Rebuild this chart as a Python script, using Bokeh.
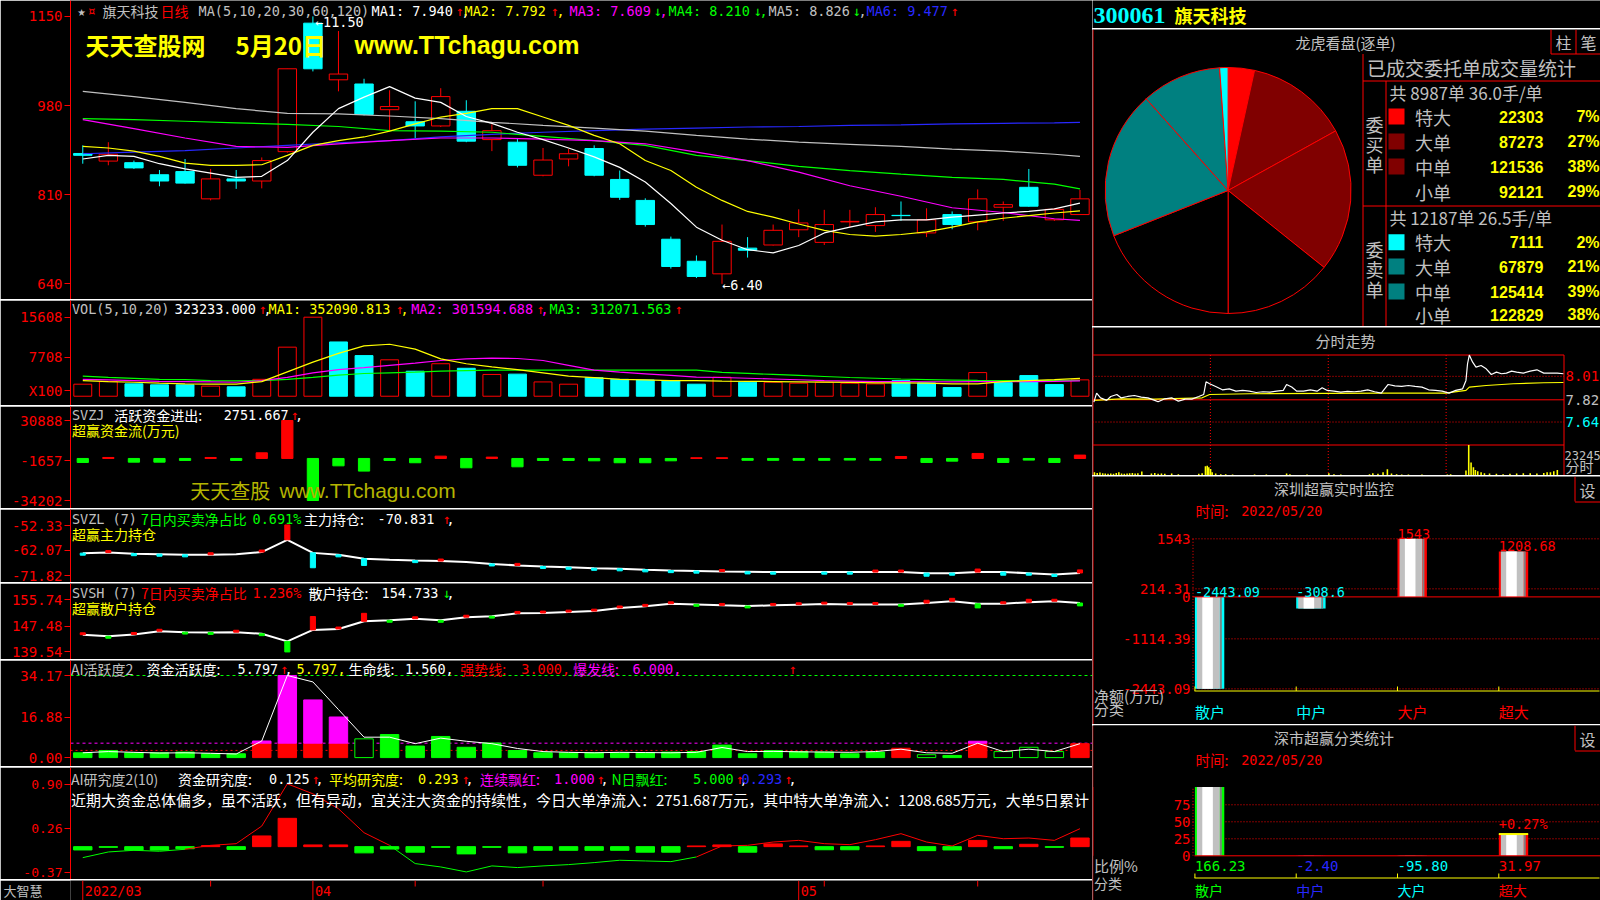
import math
from bokeh.plotting import figure
from bokeh.layouts import column, row
from bokeh.models import Range1d, FixedTicker
from bokeh.core.properties import value
from bokeh.embed import file_html
from bokeh.resources import INLINE

# ---------------------------------------------------------------- palette
BG = "#000000"; RED = "#ff0000"; CYAN = "#00ffff"; GREEN = "#00ff00"; YELLOW = "#ffff00"
MAGENTA = "#ff00ff"; WHITE = "#ffffff"; GRAY = "#c0c0c0"; BLUE = "#2828ff"
DARKRED = "#800000"; TEAL = "#008080"; OLIVE = "#b4b400"; DGRAY = "#808080"
MONO = "DejaVu Sans Mono, Noto Sans CJK SC"
CJK = "Noto Sans CJK SC, DejaVu Sans"
SANS = "Liberation Sans"
SERIF = "Liberation Serif"

# ---------------------------------------------------------------- daily bars 2022-03-21 .. 2022-05-20
opens = [8.885, 8.74, 8.71, 8.48, 8.54, 8.02, 8.40, 8.36, 8.92, 11.37,
         10.29, 10.21, 9.72, 9.49, 9.41, 9.69, 9.15, 9.10, 8.47, 8.78,
         8.98, 8.39, 7.99, 7.25, 6.83, 6.59, 7.08, 7.14, 7.43, 7.19,
         7.58, 7.51, 7.705, 7.37, 7.72, 7.58, 7.86, 8.24, 7.62, 7.72]
highs = [9.04, 9.10, 8.75, 8.57, 8.78, 8.59, 8.57, 8.81, 10.50, 11.50,
         11.22, 10.31, 10.09, 9.88, 10.13, 9.90, 9.44, 9.16, 8.99, 8.97,
         9.04, 8.56, 8.03, 7.30, 6.94, 7.53, 7.29, 7.53, 7.82, 7.81,
         7.81, 7.86, 7.97, 7.84, 7.78, 8.20, 7.97, 8.59, 7.84, 8.19]
lows = [8.69, 8.66, 8.59, 8.26, 8.31, 7.99, 8.21, 8.22, 8.90, 10.45,
        10.07, 9.61, 9.31, 9.18, 9.39, 9.10, 8.93, 8.62, 8.45, 8.64,
        8.45, 8.00, 7.49, 6.69, 6.51, 6.40, 6.90, 7.13, 7.29, 7.14,
        7.48, 7.39, 7.60, 7.29, 7.44, 7.42, 7.60, 7.87, 7.60, 7.72]
closes = [8.85, 8.87, 8.61, 8.36, 8.32, 8.40, 8.36, 8.75, 10.50, 10.50,
          10.40, 9.63, 9.78, 9.41, 9.97, 9.12, 9.32, 8.66, 8.76, 8.88,
          8.47, 8.05, 7.53, 6.73, 6.54, 7.21, 7.04, 7.42, 7.56, 7.53,
          7.59, 7.72, 7.70, 7.62, 7.53, 8.02, 7.91, 7.88, 7.82, 8.02]
ma5 = [8.78, 8.85, 8.83, 8.69, 8.59, 8.51, 8.43, 8.45, 8.75, 9.29,
       9.74, 9.96, 10.16, 9.94, 9.86, 9.59, 9.46, 9.29, 9.15, 8.99,
       8.82, 8.62, 8.34, 7.93, 7.48, 7.23, 7.05, 6.99, 7.13, 7.37,
       7.48, 7.58, 7.62, 7.62, 7.67, 7.71, 7.75, 7.78, 7.83, 7.94]
ma10 = [9.02, 8.99, 8.93, 8.83, 8.70, 8.66, 8.66, 8.67, 8.85, 9.04,
        9.13, 9.20, 9.31, 9.45, 9.58, 9.65, 9.74, 9.74, 9.58, 9.42,
        9.23, 9.07, 8.75, 8.56, 8.24, 7.99, 7.78, 7.67, 7.54, 7.42,
        7.34, 7.31, 7.34, 7.39, 7.48, 7.58, 7.65, 7.70, 7.75, 7.79]
ma_idx = [0, 2, 4, 6, 8, 10, 12, 14, 16, 18, 20, 22, 24, 26, 28, 30, 32, 34, 36, 38, 39]
ma20 = [9.53, 9.36, 9.18, 9.02, 9.00, 9.07, 9.13, 9.18, 9.18, 9.16, 9.13,
        9.07, 8.91, 8.75, 8.53, 8.27, 8.07, 7.85, 7.76, 7.64, 7.61]
ma30 = [9.55, 9.53, 9.50, 9.47, 9.44, 9.40, 9.32, 9.31, 9.29, 9.21, 9.13,
        9.04, 8.85, 8.75, 8.64, 8.56, 8.49, 8.43, 8.39, 8.30, 8.21]
ma60 = [10.07, 9.97, 9.86, 9.74, 9.65, 9.64, 9.60, 9.55, 9.48, 9.42, 9.37,
        9.31, 9.23, 9.16, 9.10, 9.06, 9.02, 8.97, 8.93, 8.87, 8.83]
ma120 = [8.88, 8.91, 8.94, 8.99, 9.04, 9.09, 9.13, 9.20, 9.25, 9.29, 9.32,
         9.35, 9.37, 9.39, 9.40, 9.42, 9.43, 9.45, 9.46, 9.47, 9.48]

# volume (x100 shares)
vol = [2375, 2890, 2440, 2250, 2250, 1990, 1860, 3340, 9690, 15608,
       10720, 8025, 7190, 4940, 6420, 5520, 4300, 4365, 2825, 2375,
       3660, 3340, 3210, 3080, 2375, 3750, 2770, 2770, 2570, 2770,
       2570, 2435, 3090, 2630, 1710, 4670, 2700, 4080, 2300, 3232]
vol_up = [1, 1, 0, 0, 0, 1, 0, 1, 1, 1, 0, 0, 1, 0, 1, 0, 1, 0, 1, 1,
          0, 0, 0, 0, 0, 1, 0, 1, 1, 1, 1, 1, 0, 0, 0, 1, 0, 0, 0, 1]
vol_ma5 = [3080, 2890, 2760, 2570, 2440, 2375, 2375, 2890, 4815, 6740,
           8470, 9950, 10270, 9310, 7380, 6420, 5780, 5260, 4620, 3980,
           3660, 3340, 3210, 3080, 3080, 3000, 2950, 2900, 2850, 2800,
           2750, 2630, 2630, 2600, 2450, 2450, 2900, 3090, 3290, 3521]
vol_ma10 = [3340, 3210, 3080, 2950, 2890, 2825, 2760, 3080, 3720, 4620,
            5260, 5650, 6100, 6550, 7060, 7380, 7510, 7450, 7060, 6100,
            5140, 4750, 4430, 4110, 3790, 3700, 3550, 3400, 3250, 3100,
            3000, 2900, 2880, 2860, 2850, 2870, 2880, 2900, 2950, 3016]
vol_ma20 = [3980, 3720, 3530, 3340, 3270, 3080, 3020, 3080, 3340, 3720,
            4170, 4490, 4620, 4750, 4940, 5070, 5140, 5140, 5140, 5140,
            5140, 5140, 5140, 5140, 5140, 4700, 4500, 4300, 4100, 3900,
            3700, 3550, 3400, 3290, 3200, 3120, 3100, 3100, 3110, 3121]

# SVZJ active money flow (10k yuan)
svzj = [-3250, 800, -3000, -3000, -1600, 800, -1600, 4600, 30888, -34202,
        -6000, -10300, -1600, -3500, 1900, -7600, 1100, -6800, -1600, -1600,
        -1900, -3500, -3500, -1900, 600, 600, -1500, -1500, -1500, -1500,
        -1300, -1500, 1600, -3250, -2170, 4070, -3250, -1350, -3250, 2752]
# SVZL main-force holding and daily change marks
svzl = [-63.1, -62.9, -63.3, -63.5, -63.75, -63.75, -63.5, -62.7, -57.9, -63.0,
        -63.75, -65.3, -65.7, -66.0, -66.2, -66.6, -67.3, -67.9, -68.3, -68.6,
        -69.0, -69.2, -69.6, -69.9, -70.1, -70.3, -70.4, -70.5, -70.5, -70.5,
        -70.5, -70.5, -70.5, -70.9, -70.9, -70.5, -70.5, -70.9, -71.4, -70.831]
svzl_mark = [-0.8, 0.8, -0.8, -0.8, -0.8, 0.8, 0, 0.8, 5.8, -5.8,
             -0.8, -2.6, 0, -0.8, 0.8, 0, -0.8, 0.8, -0.8, -0.8,
             -0.8, -0.8, -0.8, -0.8, -0.8, 0.8, -0.8, -0.8, 0, -0.8,
             -0.8, 0.8, 0.8, -1.2, -0.8, 1.2, -1.2, -0.8, -0.8, 1.2]
# SVSH retail holding and daily change marks
svsh = [144.8, 144.3, 144.9, 145.9, 145.6, 145.5, 145.6, 145.1, 142.7, 146.3,
        146.6, 149.0, 149.3, 149.8, 149.3, 150.3, 150.6, 151.5, 151.6, 151.9,
        152.2, 153.2, 153.7, 154.5, 154.3, 154.0, 153.8, 154.0, 154.2, 154.4,
        154.3, 154.3, 154.3, 154.7, 155.3, 154.5, 154.5, 155.0, 155.3, 154.733]
svsh_mark = [0.6, -0.6, 0.6, 0.6, -0.6, -0.6, 0.6, -0.6, -3.3, 4.2,
             0.6, 2.5, -0.6, 0.6, -0.6, 0.6, -0.6, 0.6, 0.6, 0.6,
             0.6, 0.6, 0.6, 0.6, -0.6, 0.6, -0.6, 0.6, 0.6, 0.6,
             0.6, 0.6, -0.6, 0.9, 0.9, -1.3, 0.6, 0.9, 0.6, -0.9]
# AI activity
ai_act = [2.0, 2.95, 2.0, 2.0, 2.3, 1.6, 1.6, 6.9, 34.17, 24.0,
          16.9, 7.8, 9.6, 4.8, 8.8, 4.3, 6.1, 2.95, 2.0, 2.0,
          2.0, 2.0, 2.0, 2.3, 2.5, 5.2, 1.6, 2.95, 2.5, 2.3,
          1.6, 2.3, 3.9, 1.2, 0.9, 6.8, 2.5, 4.3, 2.5, 5.797]
ai_kind = ["dn"] * 7 + ["up"] * 4 + ["ho"] + ["dn"] * 20 + ["up", "ho", "dn", "up", "ho", "ho", "ho", "up"]
ai_line = [2.0, 2.5, 2.2, 1.9, 2.0, 1.8, 1.5, 6.9, 34.17, 31.5,
           20.0, 8.5, 8.5, 5.8, 8.1, 6.8, 5.8, 3.8, 2.5, 2.2,
           2.0, 2.2, 2.1, 2.0, 2.2, 4.2, 2.5, 2.6, 2.4, 2.3,
           2.2, 2.5, 3.5, 2.0, 1.8, 6.0, 2.5, 3.5, 2.5, 5.797]
AI_TOP, AI_BURST, AI_STRONG = 34.17, 6.0, 3.0
# AI research
ai_res = [-0.048, -0.01, -0.05, -0.05, -0.03, 0.015, -0.04, 0.155, 0.41, 0.025,
          0.025, -0.09, -0.035, -0.08, -0.01, -0.105, -0.01, -0.09, -0.053, -0.053,
          -0.053, -0.053, -0.08, -0.08, 0.01, 0.025, -0.08, 0.04, 0.01, -0.045,
          -0.045, 0.01, 0.077, -0.058, -0.048, 0.09, -0.03, 0.034, -0.01, 0.125]
ai_res_line = [-0.159, -0.077, -0.053, -0.067, -0.038, 0.019, 0.043, 0.298, 0.91, 0.765,
               0.549, 0.202, 0.019, -0.245, -0.294, -0.366, -0.279, -0.303, -0.279, -0.26,
               -0.231, -0.197, -0.207, -0.217, -0.149, 0.01, 0.019, 0.067, 0.091, 0.043,
               0.029, 0.101, 0.188, 0.067, 0.01, 0.164, 0.115, 0.125, 0.091, 0.26]
ai_res_seg_up = [0] * 4 + [1] * 8 + [0] * 12 + [1] * 15

month_idx = [0, 9, 28]
month_lbl = ["2022/03", "04", "05"]
week_idx = [5, 13, 18, 29, 35]

# ---------------------------------------------------------------- order book statistics
size_names = ["特大", "大单", "中单", "小单"]
buy_vals = [22303, 87273, 121536, 92121]
sell_vals = [7111, 67879, 125414, 122829]
buy_pct = ["7%", "27%", "38%", "29%"]
sell_pct = ["2%", "21%", "39%", "38%"]
buy_cols = [RED, DARKRED, DARKRED, BG]
sell_cols = [CYAN, TEAL, TEAL, BG]
buy_sum = "共 8987单 36.0手/单"
sell_sum = "共 12187单 26.5手/单"

# ---------------------------------------------------------------- intraday (minutes from open)
tick_t = [0.7, 2.1, 4.1, 7.2, 9.3, 12.4, 14.5, 17.9, 21.3, 24.8, 28.2, 31.7, 33.4, 36.8, 40.3,
          43.7, 47.2, 50.6, 54.1, 56.6, 57.8, 59.6, 62.7, 66.1, 69.6, 73.0, 76.4, 79.9, 83.3,
          86.8, 90.2, 93.7, 97.1, 98.8, 101.4, 104.0, 107.4, 110.9, 114.3, 116.9, 119.5, 122.9,
          126.4, 129.8, 133.3, 136.7, 140.1, 143.6, 147.0, 150.5, 153.9, 157.4, 160.8, 164.2,
          167.7, 171.1, 174.6, 178.0, 181.5, 184.9, 188.4, 190.1, 190.9, 191.8, 193.5, 195.2,
          197.8, 200.4, 203.0, 205.6, 208.2, 210.7, 213.3, 215.9, 219.3, 222.8, 226.2, 229.7,
          233.1, 236.6, 239.7]
tick_p = [7.801, 7.874, 7.836, 7.815, 7.847, 7.863, 7.836, 7.847, 7.855, 7.842, 7.836, 7.815,
          7.804, 7.828, 7.836, 7.809, 7.825, 7.825, 7.847, 7.863, 7.966, 7.950, 7.928, 7.901,
          7.909, 7.890, 7.896, 7.890, 7.879, 7.885, 7.882, 7.890, 7.896, 7.944, 7.923, 7.890,
          7.890, 7.901, 7.890, 7.917, 7.896, 7.890, 7.882, 7.888, 7.885, 7.890, 7.901, 7.885,
          7.874, 7.944, 7.933, 7.928, 7.936, 7.928, 7.923, 7.901, 7.896, 7.890, 7.874, 7.896,
          7.909, 7.977, 8.112, 8.182, 8.125, 8.085, 8.098, 8.071, 8.025, 8.044, 8.031, 8.036,
          8.052, 8.044, 8.036, 8.052, 8.063, 8.036, 8.036, 8.036, 8.031]
avg_t = [0.7, 14.5, 31.7, 55.8, 59.6, 79.9, 148.8, 179.7, 190.1, 191.8, 200.4, 214.2, 229.7, 239.7]
avg_p = [7.815, 7.828, 7.825, 7.836, 7.863, 7.869, 7.874, 7.874, 7.896, 7.923, 7.936, 7.950, 7.958, 7.960]
min_t = [1.0, 2.4, 3.8, 5.2, 6.5, 7.9, 9.3, 10.7, 12.1, 13.4, 14.8, 16.2, 17.6, 18.9, 20.3, 21.7,
         23.1, 25.1, 30.0, 31.7, 33.4, 35.1, 36.8, 40.3, 43.7, 54.1, 55.8, 57.5, 58.4, 59.2, 60.1,
         60.9, 62.7, 65.3, 67.8, 71.3, 82.5, 88.5, 98.8, 100.5, 109.2, 120.3, 122.9, 126.4, 141.0,
         142.7, 145.3, 147.9, 150.1, 152.2, 154.8, 157.4, 160.8, 167.7, 180.6, 182.3, 190.1, 191.5,
         192.7, 193.9, 194.9, 196.1, 197.8, 199.5, 202.1, 205.6, 209.0, 212.5, 215.9, 219.3, 222.8,
         226.2, 229.7, 231.4, 233.1, 234.8, 236.6]
min_v = [2500, 2000, 2250, 1750, 1500, 1250, 1500, 1250, 2000, 2500, 1500, 1250, 1500, 1750, 2000,
         1500, 1750, 3000, 1500, 2000, 1250, 1500, 1250, 1500, 1000, 1250, 1750, 7000, 7500, 6250,
         5000, 2500, 1500, 1000, 1000, 750, 750, 750, 1500, 1000, 750, 1750, 1000, 750, 1000, 1750,
         1250, 2500, 4750, 1500, 1000, 750, 750, 750, 750, 1000, 3750, 23245, 10000, 6250, 4250,
         3250, 2500, 1750, 1500, 1250, 1000, 1250, 1500, 1750, 1750, 1500, 2000, 2500, 2500, 3250,
         4250]
prev_close = 7.82
grid_hi, grid_lo = 8.01, 7.64
min_vol_max = 23245

# ---------------------------------------------------------------- Shenzhen monitors
cats = ["散户", "中户", "大户", "超大"]
net_amt = [-2443.09, -308.6, 1543, 1208.68]
net_lbl = ["-2443.09", "-308.6", "1543", "1208.68"]
net_ticks = [1543, 214.31, -1114.39, -2443.09]
net_tick_lbl = ["1543", "214.31", "-1114.39", "-2443.09"]
ratio = [166.23, -2.40, -95.80, 31.97]
ratio_lbl = ["166.23", "-2.40", "-95.80", "31.97"]
ratio_cols = [GREEN, BLUE, CYAN, RED]
ratio_ticks = [0, 25, 50, 75]
ratio_max = 101.0
extra_note = "+0.27%"

# ================================================================ helpers
def tx(p, x, y, s, color, size=13.5, font=MONO, align="left", base="middle", bold=False,
       xr="px", yr="py", **kw):
    p.text(x=[x], y=[y], text=[s], x_range_name=xr, y_range_name=yr, text_color=color,
           text_font=value(font), text_font_size=f"{size}px", text_align=align,
           text_baseline=base, text_font_style="bold" if bold else "normal", **kw)


def seg(p, x0, y0, x1, y1, color=RED, width=1, dash="solid", xr="px", yr="py"):
    p.segment(x0=[x0], y0=[y0], x1=[x1], y1=[y1], x_range_name=xr, y_range_name=yr,
              line_color=color, line_width=width, line_dash=dash)


def header(p, y, items):
    for x, s, c, k in items:
        if k == "m":
            tx(p, x, y, s, c, 13.5, MONO)
        else:
            tx(p, x, y, s, c, 14, CJK)


LW, FW = 70, 1022
X0, X1 = -0.48, 39.49
N = len(closes)
idx = list(range(N))


def style_axis(ax, ticks, labels, color=RED, font="DejaVu Sans Mono", size="14px", tick_out=6, standoff=2):
    ax.ticker = FixedTicker(ticks=ticks, minor_ticks=[])
    ax.major_label_overrides = dict(zip(ticks, labels))
    ax.axis_line_color = RED
    ax.major_tick_line_color = RED
    ax.major_tick_out = tick_out
    ax.major_tick_in = 0
    ax.minor_tick_line_color = None
    ax.major_label_text_color = color
    ax.major_label_text_font = font
    ax.major_label_text_font_size = size
    ax.major_label_standoff = standoff


def left_panel(T, H, v1, y1, v2, y2, ticks, labels, size="14px"):
    s = (v1 - v2) / (y2 - y1)
    p = figure(width=LW + FW, height=H, x_range=Range1d(X0, X1),
               y_range=Range1d(v1 - (T + H - y1) * s, v1 + (y1 - T) * s),
               toolbar_location=None, output_backend="svg",
               min_border_left=LW, min_border_right=0, min_border_top=0, min_border_bottom=0,
               x_axis_location=None, background_fill_color=BG, border_fill_color=BG,
               outline_line_color=None)
    p.grid.visible = False
    style_axis(p.yaxis[0], ticks, labels, size=size)
    p.extra_x_ranges = {"px": Range1d(LW, LW + FW)}
    p.extra_y_ranges = {"py": Range1d(T + H, T)}
    return p


RX0, RW = 1092, 508


def right_fig(T, H):
    p = figure(width=RW, height=H, x_range=Range1d(RX0, RX0 + RW), y_range=Range1d(T + H, T),
               toolbar_location=None, output_backend="svg", min_border=0,
               x_axis_location=None, y_axis_location=None,
               background_fill_color=BG, border_fill_color=BG, outline_line_color=None)
    p.grid.visible = False
    p.extra_x_ranges = {"px": Range1d(RX0, RX0 + RW)}
    p.extra_y_ranges = {"py": Range1d(T + H, T)}
    seg(p, RX0 + 0.5, T, RX0 + 0.5, T + H)
    return p


def sep(w):
    p = figure(width=w, height=1, toolbar_location=None, output_backend="svg", min_border=0,
               x_axis_location=None, y_axis_location=None, background_fill_color=RED,
               border_fill_color=RED, outline_line_color=None)
    p.grid.visible = False
    return p


# ================================================================ price panel
p1 = left_panel(0, 299, 9.8, 105, 6.4, 283.3, [11.5, 9.8, 8.1, 6.4], ["1150", "980", "810", "640"])
up = [c >= o for o, c in zip(opens, closes)]
ccol = [RED if u else CYAN for u in up]
p1.segment(x0=idx, y0=highs, x1=idx, y1=lows, line_color=ccol, line_width=1)
p1.vbar(x=idx, width=0.72, top=[max(o, c) for o, c in zip(opens, closes)],
        bottom=[min(o, c) for o, c in zip(opens, closes)],
        fill_color=[BG if u else CYAN for u in up], line_color=ccol)
for vals, col in [(ma120, BLUE), (ma60, GRAY), (ma30, GREEN), (ma20, MAGENTA)]:
    p1.line(ma_idx, vals, line_color=col, line_width=1.2)
p1.line(idx, ma10, line_color=YELLOW, line_width=1.2)
p1.line(idx, ma5, line_color=WHITE, line_width=1.2)
hi_i = max(idx, key=lambda i: highs[i])
lo_i = min(idx, key=lambda i: lows[i])
p1.text(x=[hi_i], y=[highs[hi_i]], text=[f"←{highs[hi_i]:.2f}"], x_offset=2, y_offset=6,
        text_color=WHITE, text_font=value(MONO), text_font_size="13.5px", text_baseline="middle")
p1.text(x=[lo_i], y=[lows[lo_i]], text=[f"←{lows[lo_i]:.2f}"], x_offset=0, y_offset=1,
        text_color=WHITE, text_font=value(MONO), text_font_size="13.5px", text_baseline="middle")
tx(p1, 85, 44, "天天查股网", YELLOW, 24, CJK, bold=True)
tx(p1, 235, 44, "5月20日", YELLOW, 24, CJK, bold=True)
tx(p1, 354, 44, "www.TTchagu.com", YELLOW, 25, SANS, bold=True)
header(p1, 10, [
    (77, "★", GRAY, "m"), (87, "¤", RED, "m"), (102, "旗天科技", GRAY, "c"), (160, "日线", RED, "c"),
    (198, "MA(5,10,20,30,60,120)", GRAY, "m"),
    (371, "MA1: 7.940", WHITE, "m"), (455, "↑", RED, "m"), (461, ",", WHITE, "m"),
    (464, "MA2: 7.792", YELLOW, "m"), (550, "↑", RED, "m"), (556, ",", YELLOW, "m"),
    (569, "MA3: 7.609", MAGENTA, "m"), (653, "↓", GREEN, "m"), (659, ",", MAGENTA, "m"),
    (668, "MA4: 8.210", GREEN, "m"), (753, "↓", GREEN, "m"), (759, ",", GREEN, "m"),
    (768, "MA5: 8.826", GRAY, "m"), (852, "↓", GREEN, "m"), (858, ",", GRAY, "m"),
    (866, "MA6: 9.477", BLUE, "m"), (950, "↑", RED, "m")])

# ================================================================ volume panel
p2 = left_panel(300, 105, 15608, 316.7, 7708, 356.7, [15608, 7708, 1125], ["15608", "7708", "X100"])
p2.vbar(x=idx, width=0.7, top=vol, bottom=0,
        fill_color=[BG if u else CYAN for u in vol_up],
        line_color=[RED if u else CYAN for u in vol_up])
p2.line(idx, vol_ma20, line_color=GREEN, line_width=1.2)
p2.line(idx, vol_ma10, line_color=MAGENTA, line_width=1.2)
p2.line(idx, vol_ma5, line_color=YELLOW, line_width=1.2)
header(p2, 308, [
    (71.4, "VOL(5,10,20)", GRAY, "m"), (174, "323233.000", WHITE, "m"), (258, "↑", RED, "m"),
    (263, ",", WHITE, "m"), (268, "MA1: 352090.813", YELLOW, "m"), (395, "↑", RED, "m"),
    (400, ",", YELLOW, "m"), (410.7, "MA2: 301594.688", MAGENTA, "m"), (535.7, "↑", RED, "m"),
    (540, ",", MAGENTA, "m"), (549, "MA3: 312071.563", GREEN, "m"), (674, "↑", RED, "m")])

# ================================================================ SVZJ
p3 = left_panel(406, 102, 30888, 420, -34202, 500, [30888, -1657, -34202], ["30888", "-1657", "-34202"])
zcol = [RED if v > 0 else GREEN for v in svzj]
p3.vbar(x=idx, width=0.44, top=svzj, bottom=0, fill_color=zcol, line_color=zcol)
header(p3, 414, [(71.4, "SVZJ", GRAY, "m"), (113.8, "活跃资金进出:", WHITE, "c"),
                 (223.2, "2751.667", WHITE, "m"), (290, "↑", RED, "m"), (294.6, ",", WHITE, "m")])
header(p3, 429.5, [(71.4, "超赢资金流(万元)", YELLOW, "c")])
tx(p3, 189.7, 490, "天天查股", OLIVE, 20, CJK)
tx(p3, 279, 490, "www.TTchagu.com", OLIVE, 21, SANS)

# ================================================================ SVZL
p4 = left_panel(509, 73, -52.33, 525, -71.82, 575, [-52.33, -62.07, -71.82], ["-52.33", "-62.07", "-71.82"])
p4.line(idx, svzl, line_color=WHITE, line_width=2)
mk = [i for i in idx if svzl_mark[i] != 0]
p4.vbar(x=mk, width=0.2, bottom=[svzl[i] for i in mk], top=[svzl[i] + svzl_mark[i] for i in mk],
        fill_color=[RED if svzl_mark[i] > 0 else CYAN for i in mk],
        line_color=[RED if svzl_mark[i] > 0 else CYAN for i in mk])
header(p4, 518.5, [(71.4, "SVZL (7)", GRAY, "m"), (140.6, "7日内买卖净占比", GREEN, "c"),
                   (252, "0.691%", GREEN, "m"), (303.6, "主力持仓:", WHITE, "c"),
                   (377, "-70.831", WHITE, "m"), (442, "↑", RED, "m"), (446, ",", WHITE, "m")])
header(p4, 533, [(71.4, "超赢主力持仓", YELLOW, "c")])

# ================================================================ SVSH
p5 = left_panel(583, 76, 155.74, 599.3, 139.54, 651, [155.74, 147.48, 139.54], ["155.74", "147.48", "139.54"])
p5.line(idx, svsh, line_color=WHITE, line_width=2)
mk = [i for i in idx if svsh_mark[i] != 0]
p5.vbar(x=mk, width=0.2, bottom=[svsh[i] for i in mk], top=[svsh[i] + svsh_mark[i] for i in mk],
        fill_color=[RED if svsh_mark[i] > 0 else GREEN for i in mk],
        line_color=[RED if svsh_mark[i] > 0 else GREEN for i in mk])
header(p5, 592, [(71.4, "SVSH (7)", GRAY, "m"), (140.6, "7日内买卖净占比", RED, "c"),
                 (252, "1.236%", RED, "m"), (308, "散户持仓:", WHITE, "c"),
                 (381, "154.733", WHITE, "m"), (442, "↓", GREEN, "m"), (446, ",", WHITE, "m")])
header(p5, 607.5, [(71.4, "超赢散户持仓", YELLOW, "c")])

# ================================================================ AI activity
p6 = left_panel(660, 106, 34.17, 675, 0.0, 757.1, [34.17, 16.88, 0.0], ["34.17", "16.88", "0.00"])
p6.line([X0, X1], [AI_TOP, AI_TOP], line_color=GREEN, line_dash="3 3")
p6.line([X0, X1], [AI_BURST, AI_BURST], line_color=MAGENTA, line_dash="3 3")
p6.line([X0, X1], [AI_STRONG, AI_STRONG], line_color=RED, line_dash="2 3")
ui = [i for i in idx if ai_kind[i] == "up"]
p6.vbar(x=ui, width=0.72, bottom=0, top=[min(ai_act[i], AI_BURST) for i in ui], fill_color=RED, line_color=RED)
mi = [i for i in ui if ai_act[i] > AI_BURST]
p6.vbar(x=mi, width=0.72, bottom=AI_BURST, top=[ai_act[i] for i in mi], fill_color=MAGENTA, line_color=MAGENTA)
di = [i for i in idx if ai_kind[i] == "dn"]
p6.vbar(x=di, width=0.72, bottom=0, top=[ai_act[i] for i in di], fill_color=GREEN, line_color=GREEN)
hi = [i for i in idx if ai_kind[i] == "ho"]
p6.vbar(x=hi, width=0.72, bottom=0, top=[ai_act[i] for i in hi], fill_color=BG, line_color=GREEN)
p6.line(idx, ai_line, line_color=WHITE, line_width=1)
header(p6, 668.5, [
    (70.4, "AI活跃度2", GRAY, "c"), (146, "资金活跃度:", WHITE, "c"), (237, "5.797", WHITE, "m"),
    (279.6, "↑", RED, "m"), (284, ",", WHITE, "m"), (296, "5.797", YELLOW, "m"), (337, ",", YELLOW, "m"),
    (348, "生命线:", WHITE, "c"), (404.4, "1.560,", WHITE, "m"), (459.8, "强势线:", RED, "c"),
    (520.8, "3.000,", RED, "m"), (572.5, "爆发线:", MAGENTA, "c"), (632, "6.000,", MAGENTA, "m"),
    (788, "↑", RED, "m")])

# ================================================================ AI research
p7 = left_panel(767, 112, 0.90, 784, -0.37, 871.7, [0.90, 0.26, -0.37], ["0.90", "0.26", "-0.37"], size="13px")
rc = [RED if v > 0 else GREEN for v in ai_res]
p7.vbar(x=idx, width=0.72, bottom=0, top=ai_res, fill_color=rc, line_color=rc)
p7.segment(x0=idx[:-1], y0=ai_res_line[:-1], x1=idx[1:], y1=ai_res_line[1:],
           line_color=[RED if u else GREEN for u in ai_res_seg_up], line_width=1)
header(p7, 778, [
    (70.4, "AI研究度2(10)", GRAY, "c"), (177.5, "资金研究度:", WHITE, "c"), (268.5, "0.125", WHITE, "m"),
    (311, "↑", RED, "m"), (315, ",", WHITE, "m"), (328.6, "平均研究度:", YELLOW, "c"),
    (417.5, "0.293", YELLOW, "m"), (461, "↑", RED, "m"), (465, ",", WHITE, "m"),
    (479.6, "连续飘红:", MAGENTA, "c"), (553.5, "1.000", MAGENTA, "m"), (596, "↑", RED, "m"),
    (600, ",", WHITE, "m"), (611, "N日飘红:", GREEN, "c"), (692.5, "5.000", GREEN, "m"),
    (735, "↑", RED, "m"), (739, ",", WHITE, "m"), (741, "0.293", BLUE, "m"), (783.7, "↑", RED, "m"),
    (788, ",", WHITE, "m")])
tx(p7, 70.4, 799, "近期大资金总体偏多，虽不活跃，但有异动，宜关注大资金的持续性，今日大单净流入：2751.687万元，"
                  "其中特大单净流入：1208.685万元，大单5日累计", WHITE, 15, CJK)

# ================================================================ date strip
DH = 20
pd = figure(width=LW + FW, height=DH, x_range=Range1d(X0, X1), y_range=Range1d(0, DH),
            toolbar_location=None, output_backend="svg",
            min_border_left=LW, min_border_right=0, min_border_top=0, min_border_bottom=0,
            x_axis_location=None, background_fill_color=BG, border_fill_color=BG,
            outline_line_color=None)
pd.grid.visible = False
style_axis(pd.yaxis[0], [DH / 2], ["大智慧"], color=GRAY, font=CJK, size="13px", tick_out=0, standoff=28)
pd.yaxis[0].axis_line_color = None
pd.yaxis[0].major_tick_line_color = None
pd.segment(x0=month_idx, y0=[0] * 3, x1=month_idx, y1=[DH] * 3, line_color=RED)
pd.segment(x0=week_idx, y0=[DH - 6] * 5, x1=week_idx, y1=[DH] * 5, line_color=RED)
pd.text(x=month_idx, y=[DH / 2] * 3, text=month_lbl, x_offset=2, text_color=RED,
        text_font=value(MONO), text_font_size="13.5px", text_baseline="middle")

# ================================================================ right: title
s1 = figure(width=RW, height=28, x_range=Range1d(RX0, RX0 + RW), y_range=Range1d(28, 0),
            toolbar_location=None, output_backend="svg", min_border=0,
            x_axis_location=None, y_axis_location=None,
            background_fill_color=BG, border_fill_color=BG, outline_line_color=None)
s1.grid.visible = False
tx(s1, 1093, 14.5, "300061", CYAN, 24, SERIF, bold=True, xr="default", yr="default")
tx(s1, 1174, 14.5, "旗天科技", YELLOW, 18, CJK, bold=True, xr="default", yr="default")

# ================================================================ right: order pie and table
s2 = right_fig(29, 297)
pie_vals = buy_vals + sell_vals[::-1]
pie_cols = buy_cols + sell_cols[::-1]
tot = sum(pie_vals)
a = math.pi / 2
starts, ends = [], []
for v in pie_vals:
    starts.append(a)
    a -= 2 * math.pi * v / tot
    ends.append(a)
s2.wedge(x=[1227.6] * len(pie_vals), y=[190] * len(pie_vals), radius=123, radius_units="screen",
         start_angle=starts, end_angle=ends, direction="clock", fill_color=pie_cols,
         line_color=RED, line_width=1, x_range_name="px", y_range_name="py")
tx(s2, 1345, 41.7, "龙虎看盘(逐单)", GRAY, 15, CJK, align="center")
seg(s2, 1550.5, 29, 1550.5, 53.5)
seg(s2, 1575.5, 29, 1575.5, 53.5)
seg(s2, 1550.5, 53.5, 1600, 53.5)
tx(s2, 1563, 41, "柱", GRAY, 16, CJK, align="center")
tx(s2, 1588, 41, "笔", GRAY, 16, CJK, align="center")
seg(s2, 1362.5, 53.5, 1362.5, 326)
seg(s2, 1362.5, 80.5, 1600, 80.5)
seg(s2, 1385.5, 80.5, 1385.5, 326)
seg(s2, 1362.5, 205.5, 1600, 205.5)
tx(s2, 1366.6, 66.7, "已成交委托单成交量统计", GRAY, 19, CJK)
tx(s2, 1389, 91.7, buy_sum, GRAY, 17, CJK)
tx(s2, 1389, 216.7, sell_sum, GRAY, 17, CJK)
for k, ch in enumerate("委买单"):
    tx(s2, 1374, 123.3 + 20 * k, ch, GRAY, 18, CJK, align="center")
for k, ch in enumerate("委卖单"):
    tx(s2, 1374, 248.3 + 20 * k, ch, GRAY, 18, CJK, align="center")
for ys, vals, pcts, cols in [([116, 141, 166, 191], buy_vals, buy_pct, buy_cols),
                             ([241.7, 266, 291, 314], sell_vals, sell_pct, sell_cols)]:
    sq = [(y, c) for y, c in zip(ys, cols) if c != BG]
    s2.rect(x=[1396] * len(sq), y=[y for y, _ in sq], width=16, height=16,
            fill_color=[c for _, c in sq], line_color=None, x_range_name="px", y_range_name="py")
    for y, name, v, pc in zip(ys, size_names, vals, pcts):
        tx(s2, 1414.6, y, name, GRAY, 18, CJK)
        tx(s2, 1543, y, str(v), YELLOW, 16, SANS, align="right", bold=True)
        tx(s2, 1599, y, pc, YELLOW, 16, SANS, align="right", bold=True)

# ================================================================ right: intraday
T3, H3 = 327, 148
s3 = right_fig(T3, H3)
CH_R = 1563.5
s3.extra_x_ranges["t"] = Range1d(0, 240 * RW / (CH_R - RX0))
PSC = 0.0081
s3.extra_y_ranges["pr"] = Range1d(prev_close - (T3 + H3 - 399.3) * PSC, prev_close + (399.3 - T3) * PSC)
s3.extra_y_ranges["vv"] = Range1d(0, min_vol_max * H3 / (T3 + H3 - 444.5))
tx(s3, 1345, 340, "分时走势", GRAY, 15, CJK, align="center")
seg(s3, RX0, 354.5, CH_R, 354.5)
seg(s3, CH_R, 354.5, CH_R, 475)
seg(s3, RX0, 444.5, CH_R, 444.5)
for tm in [60, 120, 180]:
    seg(s3, tm, 354.5, tm, 475, dash="1 2", xr="t")
seg(s3, 0, grid_hi, 240, grid_hi, dash="1 2", xr="t", yr="pr")
seg(s3, 0, grid_lo, 240, grid_lo, dash="1 2", xr="t", yr="pr")
seg(s3, 0, prev_close, 240, prev_close, xr="t", yr="pr")
s3.vbar(x=min_t, width=0.8, top=min_v, bottom=0, fill_color=YELLOW, line_color=None,
        x_range_name="t", y_range_name="vv")
s3.line(avg_t, avg_p, line_color=YELLOW, line_width=1.2, x_range_name="t", y_range_name="pr")
s3.line(tick_t, tick_p, line_color=WHITE, line_width=1.2, x_range_name="t", y_range_name="pr")
tx(s3, 1565, grid_hi, f"{grid_hi:.2f}", RED, 14, MONO, yr="pr")
tx(s3, 1565, prev_close, f"{prev_close:.2f}", GRAY, 14, MONO, yr="pr")
tx(s3, 1565, grid_lo, f"{grid_lo:.2f}", CYAN, 14, MONO, yr="pr")
tx(s3, 1564, 455, str(min_vol_max), GRAY, 12, MONO)
tx(s3, 1565, 465.5, "分时", GRAY, 14, CJK)

# ================================================================ right: Shenzhen net amount monitor
CW = 0.29
C0, CS = 1209.1, 101.3


def striped(p, xs, tops, edges, yr):
    kw = dict(bottom=0, line_color=None, x_range_name="cx", y_range_name=yr)
    p.vbar(x=xs, top=tops, width=CW, fill_color=edges, **kw)
    p.vbar(x=[x - 0.012 for x in xs], top=tops, width=CW * 0.78, fill_color=GRAY, **kw)
    p.vbar(x=[x - 0.02 for x in xs], top=tops, width=CW * 0.36, fill_color=WHITE, **kw)
    p.vbar(x=[x + 0.112 for x in xs], top=tops, width=CW * 0.06, fill_color=DGRAY, **kw)


def box_title(p, T, title):
    tx(p, 1333.5, T + 12, title, GRAY, 15, CJK, align="center")
    seg(p, 1574.5, T, 1574.5, T + 25)
    seg(p, 1574.5, T + 25.5, 1600, T + 25.5)
    tx(p, 1587, T + 13, "设", GRAY, 16, CJK, align="center")
    tx(p, 1195, T + 34, "时间:", RED, 14.5, CJK)
    tx(p, 1240.7, T + 34, "2022/05/20", RED, 13.5, MONO)


T4, H4 = 476, 248
s4 = right_fig(T4, H4)
cx_rng = Range1d((RX0 - C0) / CS, (RX0 + RW - C0) / CS)
s4.extra_x_ranges["cx"] = cx_rng
NSC = 26.57
s4.extra_y_ranges["cy"] = Range1d(-(T4 + H4 - 596.4) * NSC, (596.4 - T4) * NSC)
box_title(s4, T4, "深圳超赢实时监控")
cxs = list(range(len(cats)))
for v in net_ticks:
    seg(s4, 1192, v, 1600, v, dash="1 2", yr="cy")
seg(s4, 1192.5, net_ticks[0], 1192.5, net_ticks[-1], dash="1 2", yr="cy")
striped(s4, cxs, net_amt, [CYAN if v < 0 else RED for v in net_amt], "cy")
seg(s4, 1192, 0, 1600, 0, yr="cy")
for v, lb in zip(net_ticks[:2] + [0] + net_ticks[2:], net_tick_lbl[:2] + ["0"] + net_tick_lbl[2:]):
    tx(s4, 1190, v, lb, RED, 14, MONO, align="right", yr="cy")
s4.text(x=[i - CW / 2 for i in cxs], y=[max(v, 0) for v in net_amt], text=net_lbl,
        text_color=[CYAN if v < 0 else RED for v in net_amt], text_font=value(MONO),
        text_font_size="13.5px", text_baseline="bottom", x_range_name="cx", y_range_name="cy")
seg(s4, 1194, 690.5, 1599, 690.5, color=YELLOW)
s4.segment(x0=[i - CW / 2 for i in cxs], y0=[686] * 4, x1=[i - CW / 2 for i in cxs], y1=[690.5] * 4,
           line_color=YELLOW, x_range_name="cx", y_range_name="py")
tx(s4, 1093.5, 695, "净额(万元)", GRAY, 15, CJK)
tx(s4, 1093.5, 708, "分类", GRAY, 15, CJK)
s4.text(x=[i - CW / 2 for i in cxs], y=[711] * 4, text=cats,
        text_color=[CYAN if v < 0 else RED for v in net_amt], text_font=value(CJK),
        text_font_size="15px", text_baseline="middle", x_range_name="cx", y_range_name="py")

# ================================================================ right: Shenzhen category ratio
T5, H5 = 725, 175
s5 = right_fig(T5, H5)
s5.extra_x_ranges["cx"] = Range1d(cx_rng.start, cx_rng.end)
RSC = 1.47
s5.extra_y_ranges["sy"] = Range1d(-(T5 + H5 - 855.3) * RSC, (855.3 - T5) * RSC)
for v in ratio_ticks[1:]:
    seg(s5, 1192, v, 1600, v, dash="1 2", yr="sy")
seg(s5, 1192.5, 0, 1192.5, ratio_max, dash="1 2", yr="sy")
striped(s5, cxs, ratio, ratio_cols, "sy")
s5.segment(x0=[3 - CW / 2], y0=[ratio[3]], x1=[3 + CW / 2], y1=[ratio[3]], line_color=YELLOW,
           line_width=2, x_range_name="cx", y_range_name="sy")
# the plotting area only shows 0 .. ratio_max
s5.quad(left=[1093], right=[1600], bottom=[ratio_max], top=[1000], fill_color=BG, line_color=None,
        x_range_name="px", y_range_name="sy")
s5.quad(left=[1093], right=[1600], bottom=[-1000], top=[0], fill_color=BG, line_color=None,
        x_range_name="px", y_range_name="sy")
box_title(s5, T5, "深市超赢分类统计")
seg(s5, 1194, 0, 1600, 0, yr="sy")
for v in ratio_ticks:
    tx(s5, 1190, v, str(v), RED, 14, MONO, align="right", yr="sy")
s5.text(x=[3 - CW / 2], y=[ratio[3]], text=[extra_note], y_offset=-2, text_color=RED,
        text_font=value(MONO), text_font_size="13.5px", text_baseline="bottom",
        x_range_name="cx", y_range_name="sy")
s5.text(x=[i - CW / 2 for i in cxs], y=[865.7] * 4, text=ratio_lbl, text_color=ratio_cols,
        text_font=value(MONO), text_font_size="14px", text_baseline="middle",
        x_range_name="cx", y_range_name="py")
seg(s5, 1194, 877.5, 1599, 877.5, color=YELLOW)
s5.segment(x0=[i - CW / 2 for i in cxs], y0=[873] * 4, x1=[i - CW / 2 for i in cxs], y1=[877.5] * 4,
           line_color=YELLOW, x_range_name="cx", y_range_name="py")
tx(s5, 1093.5, 865, "比例%", GRAY, 15, CJK)
tx(s5, 1093.5, 882.5, "分类", GRAY, 14, CJK)
s5.text(x=[i - CW / 2 for i in cxs], y=[889] * 4, text=cats, text_color=ratio_cols,
        text_font=value(CJK), text_font_size="14px", text_baseline="middle",
        x_range_name="cx", y_range_name="py")

# ================================================================ layout
left = column(p1, sep(LW + FW), p2, sep(LW + FW), p3, sep(LW + FW), p4, sep(LW + FW), p5,
              sep(LW + FW), p6, sep(LW + FW), p7, sep(LW + FW), pd)
right = column(s1, sep(RW), s2, sep(RW), s3, sep(RW), s4, sep(RW), s5)
root = row(left, right)

open("out.html", "w").write(file_html(root, INLINE, title="旗天科技 300061"))
